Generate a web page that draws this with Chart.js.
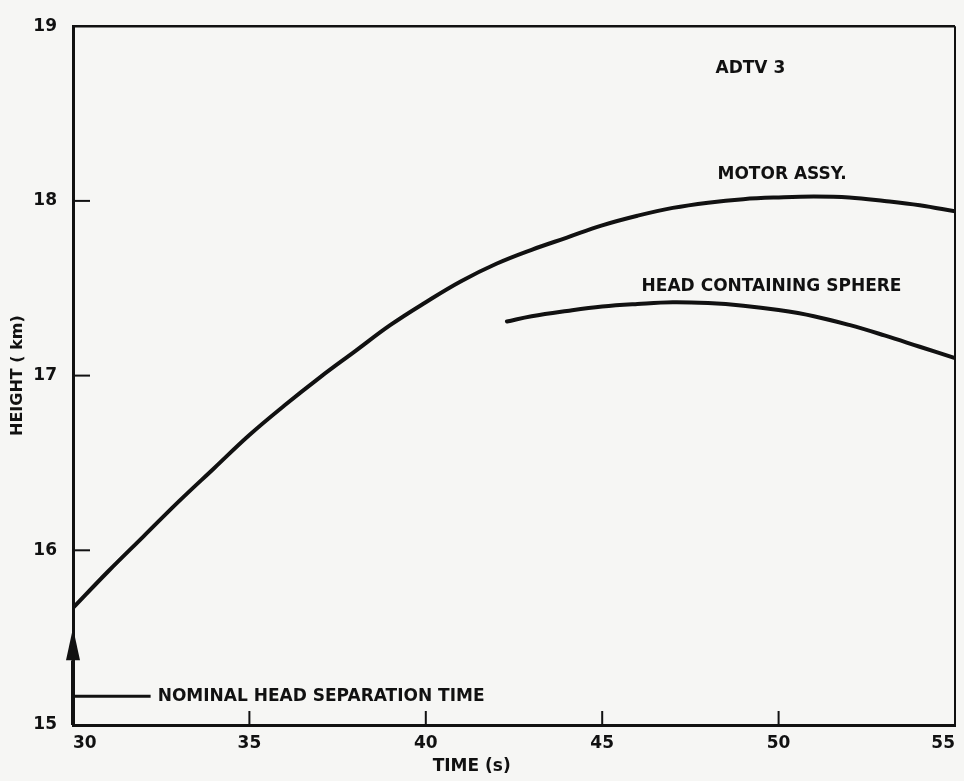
<!DOCTYPE html>
<html>
<head>
<meta charset="utf-8">
<script src="https://cdn.jsdelivr.net/npm/chart.js@4.4.1/dist/chart.umd.min.js"></script>
<style>
  html, body { margin: 0; padding: 0; background: #f6f6f4; }
  #wrap { width: 964px; height: 781px; }
</style>
</head>
<body>
<div id="wrap"><canvas id="c" width="964" height="781"></canvas></div>
<script>
// ---- data ----
const motorTime   = [30, 31, 32, 33, 34, 35, 36, 37, 38, 39, 40, 41, 42, 43, 44, 45, 46, 47, 48, 49, 50, 51, 52, 53, 54, 55];
const motorHeight = [15.67, 15.88, 16.08, 16.28, 16.47, 16.66, 16.83, 16.99, 17.14, 17.29, 17.42, 17.54, 17.64, 17.72, 17.79, 17.86, 17.915, 17.96, 17.99, 18.01, 18.02, 18.025, 18.02, 18.00, 17.975, 17.94];

const sphereTime   = [42.3, 43, 44, 45, 46, 47, 48, 49, 50, 51, 52, 53, 54, 55];
const sphereHeight = [17.31, 17.34, 17.37, 17.395, 17.41, 17.42, 17.415, 17.40, 17.375, 17.34, 17.29, 17.23, 17.165, 17.10];

const separationTime   = [30, 32.2];
const separationHeight = [15.165, 15.165];
const arrowTime = 30, arrowBase = 15.0, arrowTip = 15.555, arrowHeadBase = 15.37;

const xTickValues = [30, 35, 40, 45, 50, 55];
const yTickValues = [15, 16, 17, 18, 19];

const annotations = [
  { text: 'ADTV 3', x: 49.2, y: 18.76, align: 'center' },
  { text: 'MOTOR ASSY.', x: 50.1, y: 18.15, align: 'center' },
  { text: 'HEAD CONTAINING SPHERE', x: 49.8, y: 17.51, align: 'center' },
  { text: 'NOMINAL HEAD SEPARATION TIME', x: 32.4, y: 15.165, align: 'left' }
];
const xTitle = 'TIME (s)';
const yTitle = 'HEIGHT ( km)';

// ---- chart ----
const INK = '#111111';
const FONT = '"DejaVu Sans", sans-serif';

const toPts = (xs, ys) => xs.map((x, i) => ({ x: x, y: ys[i] }));

const decor = {
  id: 'decor',
  beforeDraw(chart) {
    const ctx = chart.ctx;
    ctx.save();
    ctx.fillStyle = '#f6f6f4';
    ctx.fillRect(0, 0, chart.width, chart.height);
    ctx.restore();
  },
  afterDraw(chart) {
    const ctx = chart.ctx;
    const xs = chart.scales.x, ys = chart.scales.y;
    const a = chart.chartArea;
    ctx.save();
    ctx.strokeStyle = INK;
    ctx.lineCap = 'butt';
    // top and right frame
    ctx.lineWidth = 2.5;
    ctx.beginPath();
    ctx.moveTo(a.left, a.top); ctx.lineTo(a.right, a.top);
    ctx.stroke();
    ctx.lineWidth = 2;
    ctx.beginPath();
    ctx.moveTo(a.right, a.top); ctx.lineTo(a.right, a.bottom);
    ctx.stroke();
    // inner tick marks
    ctx.lineWidth = 2;
    yTickValues.forEach(v => {
      if (v === ys.min || v === ys.max) return;
      const py = ys.getPixelForValue(v);
      ctx.beginPath(); ctx.moveTo(a.left, py); ctx.lineTo(a.left + 17, py); ctx.stroke();
    });
    xTickValues.forEach(v => {
      if (v === xs.min || v === xs.max) return;
      const px = xs.getPixelForValue(v);
      ctx.beginPath(); ctx.moveTo(px, a.bottom); ctx.lineTo(px, a.bottom - 14); ctx.stroke();
    });
    // separation arrow
    const ax = xs.getPixelForValue(arrowTime);
    const yb = ys.getPixelForValue(arrowBase);
    const yt = ys.getPixelForValue(arrowTip);
    const yh = ys.getPixelForValue(arrowHeadBase);
    ctx.lineWidth = 4;
    ctx.beginPath(); ctx.moveTo(ax, yb); ctx.lineTo(ax, yh); ctx.stroke();
    ctx.fillStyle = INK;
    ctx.beginPath();
    ctx.moveTo(ax, yt); ctx.lineTo(ax - 7, yh); ctx.lineTo(ax + 7, yh); ctx.closePath();
    ctx.fill();
    // annotations
    ctx.font = 'bold 17px ' + FONT;
    ctx.textBaseline = 'middle';
    annotations.forEach(t => {
      ctx.textAlign = t.align;
      ctx.fillText(t.text, xs.getPixelForValue(t.x), ys.getPixelForValue(t.y));
    });
    // x axis title
    ctx.textAlign = 'center';
    ctx.fillText(xTitle, xs.getPixelForValue(41.3), 767);
    ctx.restore();
  }
};

new Chart(document.getElementById('c'), {
  type: 'line',
  data: {
    datasets: [
      { label: 'MOTOR ASSY.', data: toPts(motorTime, motorHeight), borderColor: INK, borderWidth: 4, pointRadius: 0, tension: 0.4, fill: false },
      { label: 'HEAD CONTAINING SPHERE', data: toPts(sphereTime, sphereHeight), borderColor: INK, borderWidth: 4, pointRadius: 0, tension: 0.4, fill: false, borderCapStyle: 'round' },
      { label: 'NOMINAL HEAD SEPARATION TIME', data: toPts(separationTime, separationHeight), borderColor: INK, borderWidth: 3, pointRadius: 0, tension: 0, fill: false }
    ]
  },
  options: {
    responsive: false,
    animation: false,
    devicePixelRatio: 1,
    layout: { padding: { left: 0, right: 9, top: 19, bottom: 0 } },
    plugins: { legend: { display: false }, tooltip: { enabled: false } },
    scales: {
      x: {
        type: 'linear', min: 30, max: 55,
        afterBuildTicks: s => { s.ticks = xTickValues.map(v => ({ value: v })); },
        afterFit: s => { s.height = 56; },
        grid: { display: true, drawOnChartArea: false, drawTicks: false },
        border: { display: true, color: INK, width: 3 },
        ticks: { color: INK, font: { family: FONT, size: 17, weight: 'bold' }, padding: 8, align: 'inner', maxRotation: 0 },
        title: { display: false, text: xTitle }
      },
      y: {
        type: 'linear', min: 15, max: 19,
        afterBuildTicks: s => { s.ticks = yTickValues.map(v => ({ value: v })); },
        afterFit: s => { s.width = 73; },
        grid: { display: true, drawOnChartArea: false, drawTicks: false },
        border: { display: true, color: INK, width: 3 },
        ticks: { color: INK, font: { family: FONT, size: 17, weight: 'bold' }, padding: 16 },
        title: { display: true, text: yTitle, color: INK, font: { family: FONT, size: 16, weight: 'bold' }, padding: { top: 8, bottom: 0 } }
      }
    }
  },
  plugins: [decor]
});
</script>
</body>
</html>
